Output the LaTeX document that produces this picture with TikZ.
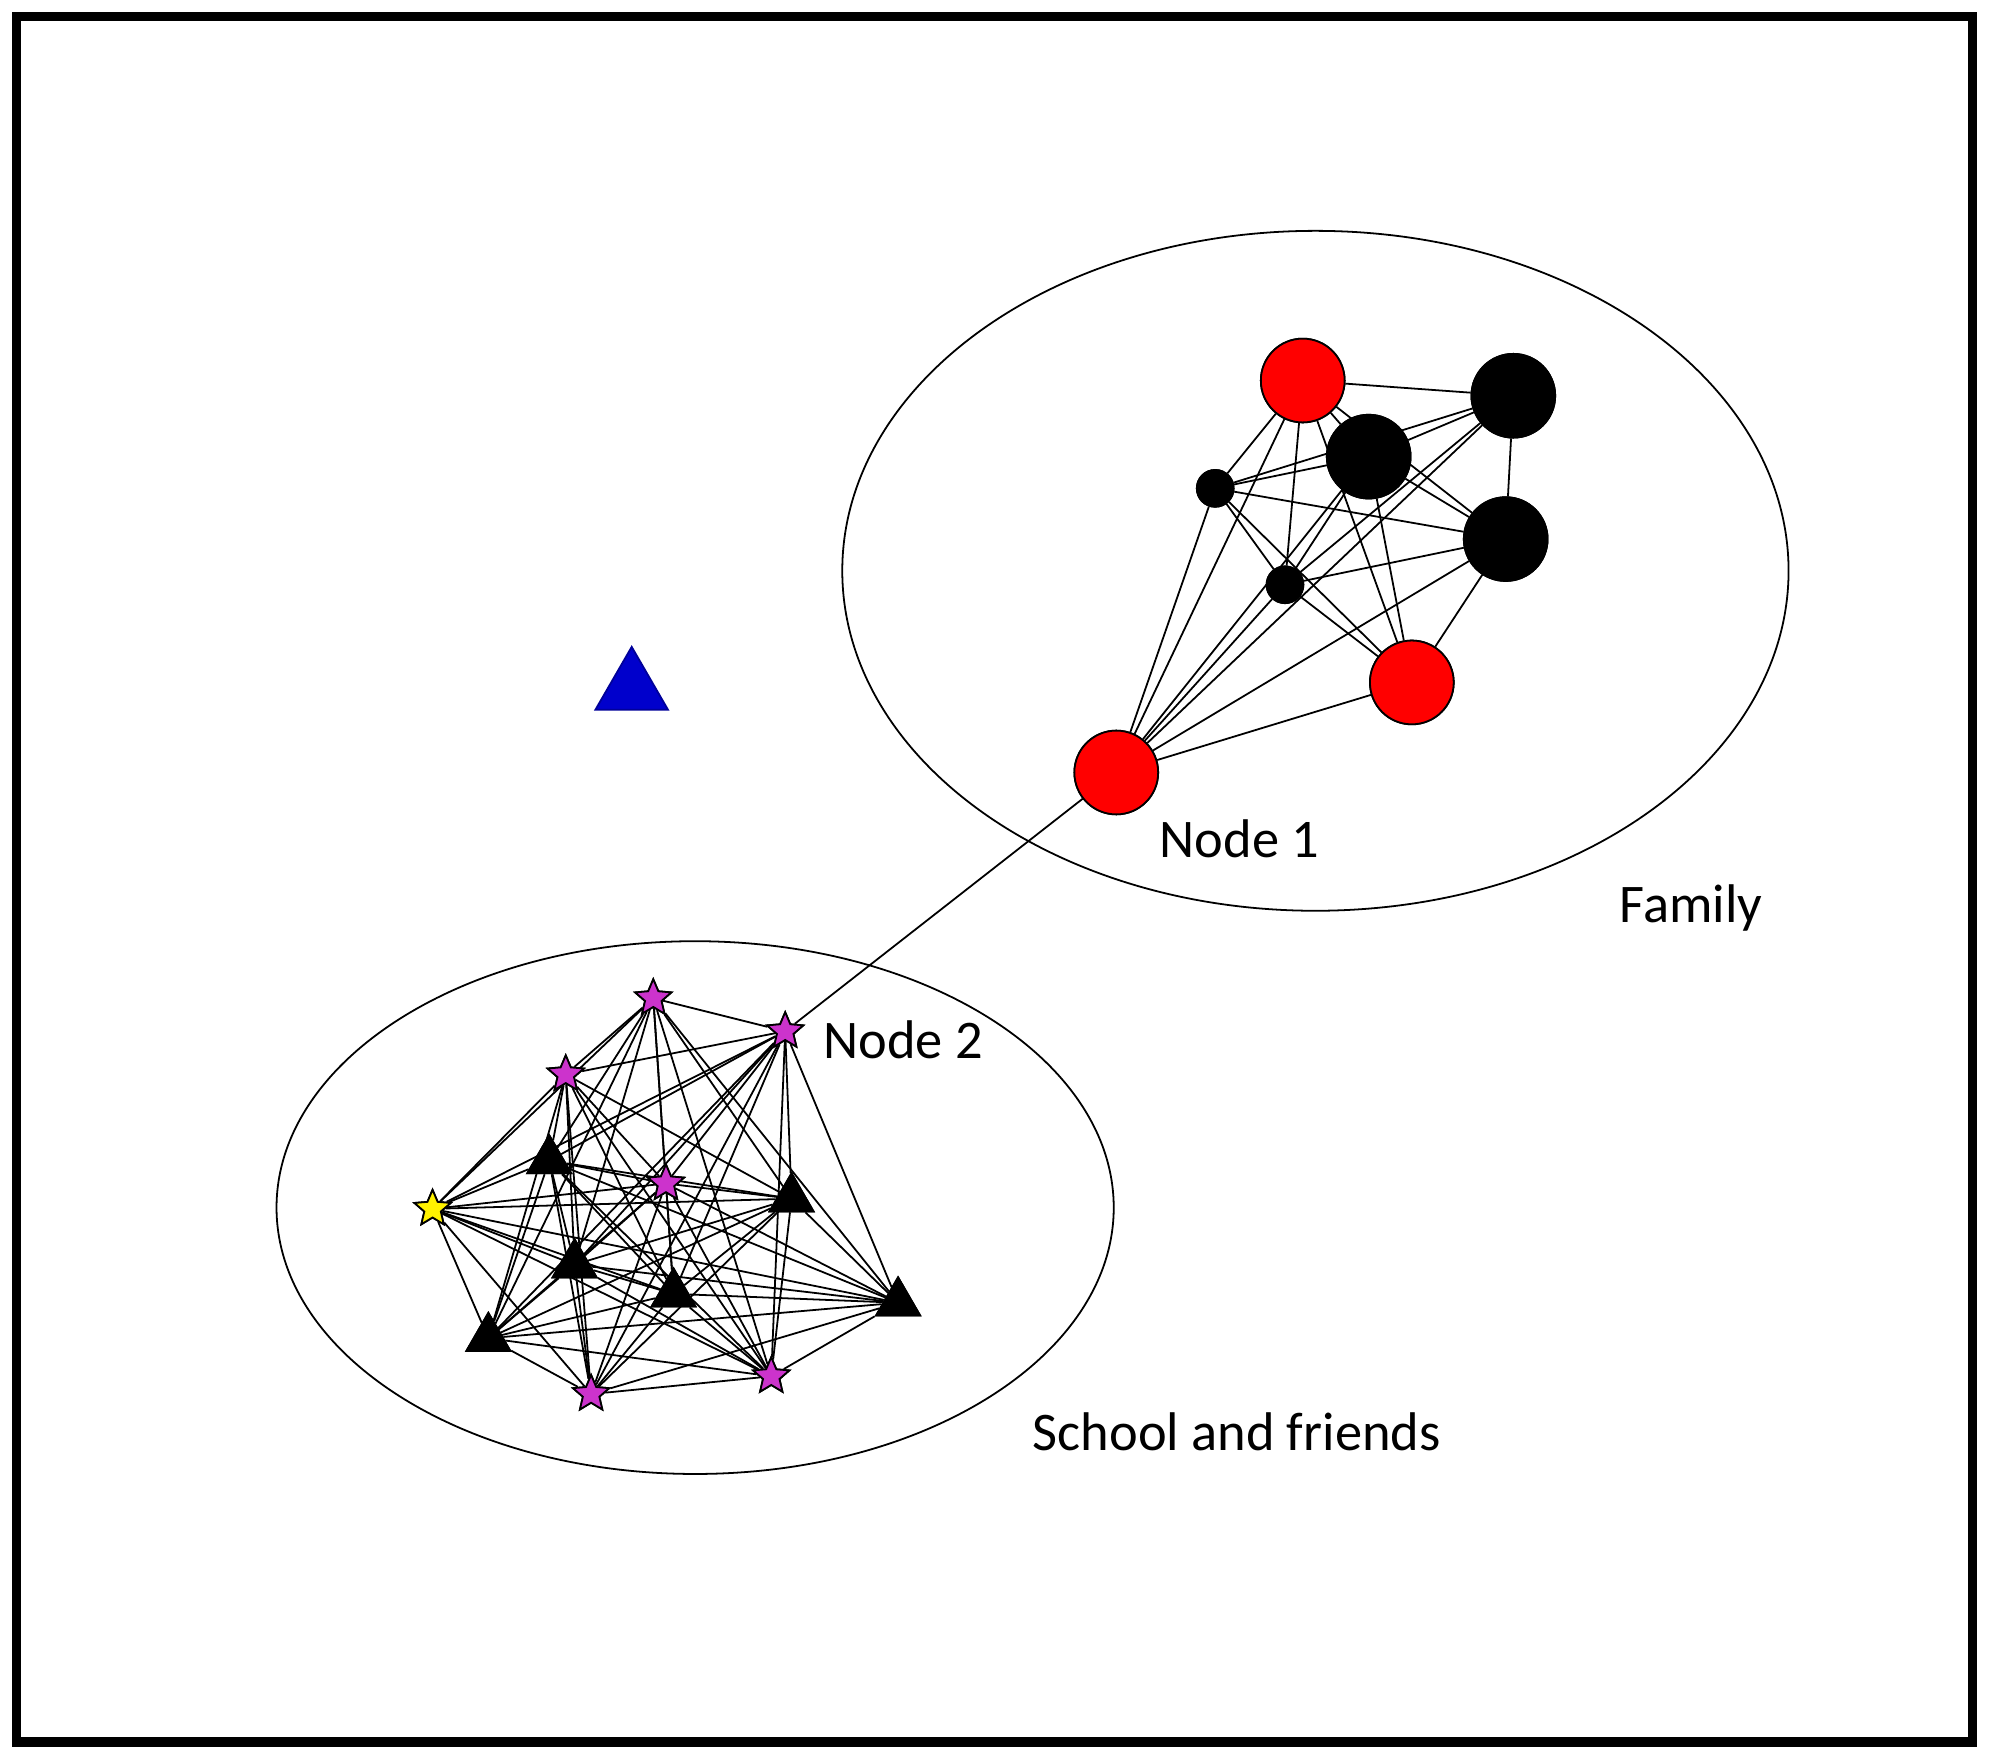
\documentclass[tikz,border=0pt]{standalone}
\usepackage{fontspec}
\setmainfont{Carlito}
\usetikzlibrary{shapes.geometric}
\definecolor{starmag}{RGB}{204,51,204}

\begin{document}
\begin{tikzpicture}[x=0.01cm, y=-0.01cm]
\useasboundingbox (0,0) rectangle (1568,1386);
\draw[line width=2.2pt] (13,13) rectangle (1555,1373);

\tikzset{
    big/.style={circle, draw, fill=black, minimum size=0.66cm, inner sep=0pt},
    redn/.style={big, fill=red},
    small/.style={circle, draw, fill=black, minimum size=0.29cm, inner sep=0pt},
    mag/.style={star, star points=5, star point ratio=2.2, draw, fill=starmag, minimum size=0.3cm, inner sep=0pt},
    yel/.style={mag, fill=yellow},
    tri/.style={regular polygon, regular polygon sides=3, draw, fill=black, minimum size=0.4cm, inner sep=0pt},
    lbl/.style={font=\fontsize{12.2}{14}\selectfont}
}

% groups
\draw[thin] (1037,450) ellipse [x radius=373, y radius=268];
\draw[thin] (548,952) ellipse [x radius=330, y radius=210];

% family
\node[redn] (r1) at (1027,300) {};
\node[big] (b1) at (1193,312) {};
\node[big] (b2) at (1079,360) {};
\node[small] (s1) at (958,385) {};
\node[big] (b3) at (1187,425) {};
\node[small] (s2) at (1013,461) {};
\node[redn] (r2) at (1113,538) {};
\node[redn] (r3) at (880,609) {};

% school and friends
\node[mag] (m1) at (515,787) {};
\node[mag] (m2) at (619,813) {};
\node[mag] (m3) at (446,847) {};
\node[mag] (m4) at (525,933) {};
\node[mag] (m5) at (466,1099) {};
\node[mag] (m6) at (608,1085) {};
\node[yel] (y1) at (341,953) {};
\node[tri] (t1) at (433,915) {};
\node[tri] (t2) at (624,945) {};
\node[tri] (t3) at (453,997) {};
\node[tri] (t4) at (531,1020) {};
\node[tri] (t5) at (708,1027) {};
\node[tri] (t6) at (385,1055) {};

% isolate
\node[regular polygon, regular polygon sides=3, fill=blue!80!black, draw=blue!60!black, minimum size=0.66cm, inner sep=0pt] (iso) at (498,543) {};

\begin{scope}[thin]
\foreach \a/\b in {r1/b1,r1/b2,r1/s1,r1/b3,r1/s2,r1/r2,r1/r3,
    b1/b2,b1/s1,b1/b3,b1/s2,b1/r3,
    b2/s1,b2/b3,b2/s2,b2/r2,b2/r3,
    s1/b3,s1/s2,s1/r2,s1/r3,
    b3/s2,b3/r2,b3/r3,
    s2/r2,s2/r3, r2/r3}
    \draw (\a) -- (\b);
\foreach \a/\b in {m1/m2,m1/m3,m1/m4,m1/y1,m1/t1,m1/t2,m1/t3,m1/t4,m1/t5,m1/t6,m1/m6,
    m2/m3,m2/m4,m2/y1,m2/t1,m2/t2,m2/t3,m2/t4,m2/t5,m2/t6,m2/m5,m2/m6,
    m3/m4,m3/y1,m3/t1,m3/t2,m3/t3,m3/t4,m3/t6,m3/m5,m3/m6,
    m4/y1,m4/t1,m4/t2,m4/t3,m4/t4,m4/t5,m4/t6,m4/m5,m4/m6,
    y1/t1,y1/t2,y1/t3,y1/t4,y1/t5,y1/t6,y1/m5,y1/m6,
    t1/t2,t1/t3,t1/t4,t1/t5,t1/t6,t1/m5,t1/m6,
    t2/t3,t2/t4,t2/t5,t2/t6,t2/m5,t2/m6,
    t3/t4,t3/t5,t3/t6,t3/m5,t3/m6,
    t4/t5,t4/t6,t4/m5,t4/m6,
    t5/t6,t5/m5,t5/m6, t6/m5,t6/m6, m5/m6}
    \draw (\a) -- (\b);
\draw (r3) -- (m2);
\end{scope}

% redraw nodes on top
\foreach \n/\s in {r1/redn,b1/big,b2/big,s1/small,b3/big,s2/small,r2/redn,r3/redn}
    \node[\s] at (\n) {};
\foreach \n in {m1,m2,m3,m4,m5,m6}
    \node[mag] at (\n) {};
\node[yel] at (y1) {};
\foreach \n in {t1,t2,t3,t4,t5,t6}
    \node[tri] at (\n) {};

% labels
\node[lbl] (l1) at (977,661) {Node 1};
\node[lbl] (l2) at (1333,716) {Family};
\node[lbl] (l3) at (712,820) {Node 2};
\node[lbl] (l4) at (975,1129) {School and friends};
\end{tikzpicture}
\end{document}
